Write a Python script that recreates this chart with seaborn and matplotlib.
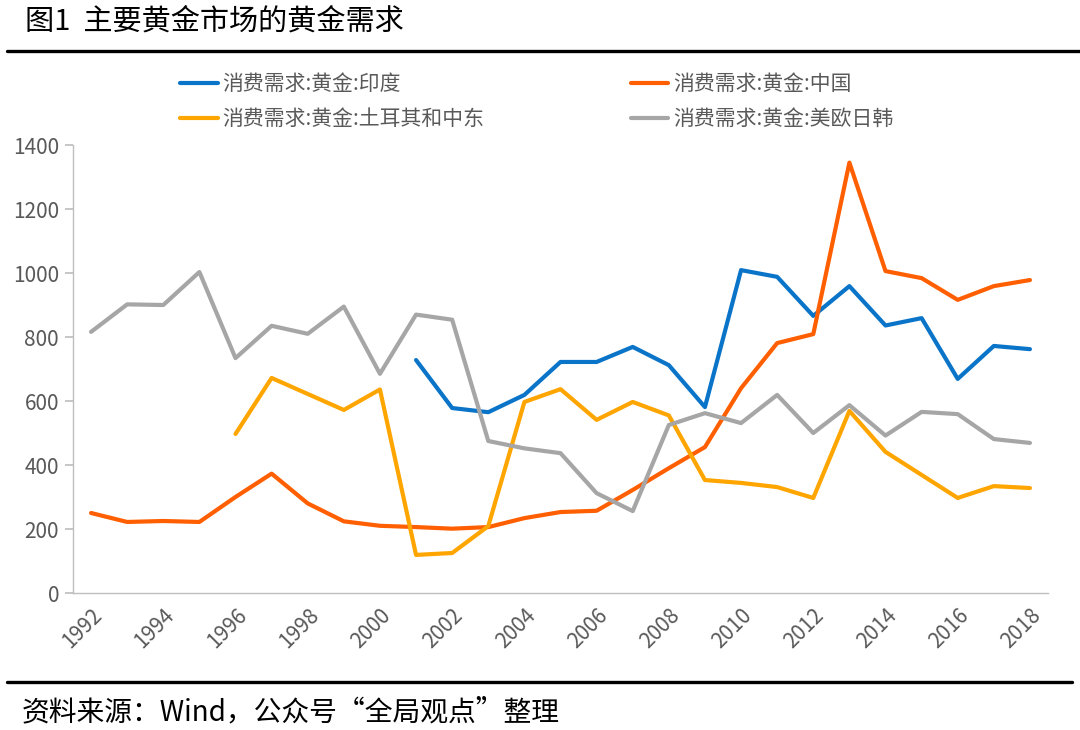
import numpy as np
import pandas as pd
import seaborn as sns
from matplotlib import pyplot as plt
from matplotlib.lines import Line2D

# 数据 (吨)
years = list(range(1992, 2019))
india = [np.nan] * 9 + [728, 578, 565, 619, 722, 722, 769, 712, 581,
                        1009, 988, 866, 959, 836, 859, 669, 772, 762]
china = [250, 222, 225, 222, 300, 373, 280, 224, 210, 206, 201, 206, 234, 253,
         257, 322, 390, 456, 640, 781, 809, 1345, 1006, 984, 916, 959, 978]
mideast = [np.nan] * 4 + [497, 672, 622, 572, 636, 119, 125, 209, 597, 637,
                          541, 597, 555, 353, 344, 331, 297, 569, 441, 369,
                          297, 334, 328]
west = [816, 902, 900, 1003, 734, 835, 810, 895, 685, 870, 854, 475, 452, 437,
        312, 256, 525, 562, 531, 619, 500, 587, 492, 566, 559, 481, 469]

names = ["消费需求:黄金:印度", "消费需求:黄金:中国",
         "消费需求:黄金:土耳其和中东", "消费需求:黄金:美欧日韩"]
colors = ["#0A74C9", "#FF5F00", "#FFA500", "#A6A6A6"]

frames = []
for name, vals in zip(names, [india, china, mideast, west]):
    frames.append(pd.DataFrame({"year": years, "value": vals, "series": name}))
df = pd.concat(frames).dropna()

sns.set_theme(style="white")
plt.rcParams["font.family"] = ["Noto Sans CJK SC", "DejaVu Sans"]

fig = plt.figure(figsize=(10.8, 7.3), dpi=100)
ax = fig.add_axes([73 / 1080, 1 - 593 / 730, 975 / 1080, 448 / 730])

sns.lineplot(data=df, x="year", y="value", hue="series", hue_order=names,
             palette=colors, linewidth=3.0, ax=ax, legend=True)

ax.set_xlim(1991.5, 2018.5)
ax.set_ylim(0, 1400)
ax.set_yticks(range(0, 1401, 200))
ax.set_xticks(range(1992, 2019, 2))
ax.set_xticks(np.arange(1991.5, 2018.6, 2), minor=True)
ax.set_xticklabels([str(y) for y in range(1992, 2019, 2)], rotation=45,
                   ha="right", va="top", rotation_mode="anchor")
ax.tick_params(axis="x", which="major", length=0, pad=8, labelsize=15,
               labelcolor="#595959")
ax.tick_params(axis="x", which="minor", length=6, direction="in",
               color="#BFBFBF", width=1)
ax.tick_params(axis="y", length=6, direction="out", color="#BFBFBF",
               labelsize=15, labelcolor="#595959", pad=4, left=True)
ax.set_xlabel("")
ax.set_ylabel("")
for side in ["top", "right"]:
    ax.spines[side].set_visible(False)
for side in ["left", "bottom"]:
    ax.spines[side].set_color("#BFBFBF")
    ax.spines[side].set_linewidth(1)

handles, labels = ax.get_legend_handles_labels()
ax.get_legend().remove()
order = [0, 2, 1, 3]
fig.legend([handles[i] for i in order], [labels[i] for i in order],
           ncol=2, loc="upper left", bbox_to_anchor=(180 / 1080, 1 - 73 / 730),
           frameon=False, fontsize=15, handlelength=1.8, handletextpad=0.25,
           columnspacing=7.0, labelspacing=0.62, labelcolor="#595959",
           borderaxespad=0, borderpad=0)

fig.text(25 / 1080, 1 - 22 / 730, "图1  主要黄金市场的黄金需求", fontsize=21,
         color="black", ha="left", va="center")
fig.add_artist(Line2D([7 / 1080, 1.0], [1 - 51 / 730] * 2, color="black",
                      linewidth=2.4, transform=fig.transFigure))
fig.add_artist(Line2D([7 / 1080, 1072 / 1080], [1 - 682 / 730] * 2,
                      color="black", linewidth=2.4, transform=fig.transFigure))
fig.text(22 / 1080, 1 - 712 / 730, "资料来源：Wind，公众号“全局观点”整理",
         fontsize=20, color="black", ha="left", va="center")

fig.savefig("out.png", dpi=100)
